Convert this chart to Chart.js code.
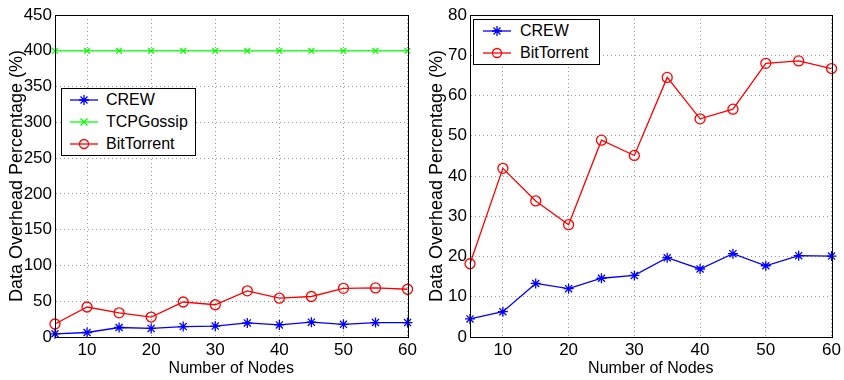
<!DOCTYPE html>
<html>
<head>
<meta charset="utf-8">
<script src="https://cdn.jsdelivr.net/npm/chart.js@4.4.1/dist/chart.umd.min.js"></script>
<style>
  body { margin: 0; background: #fff; }
  #wrap { position: relative; width: 844px; height: 380px; }
  .panel { position: absolute; top: 0; height: 380px; }
  #leftPanel { left: 0; width: 420px; }
  #rightPanel { left: 420px; width: 424px; }
  .legend { position: absolute; border: 1px solid #000; background: #fff;
            font: 16px "Liberation Sans", Arial, sans-serif; color: #000; }
  .legend .row { height: 22px; display: flex; align-items: center; }
  .legend svg { display: block; }
</style>
</head>
<body>
<div id="wrap">
  <div class="panel" id="leftPanel">
    <canvas id="leftChart" width="420" height="380"></canvas>
    <div class="legend" id="leftLegend" style="left:61px;top:88px;width:133px;"></div>
  </div>
  <div class="panel" id="rightPanel">
    <canvas id="rightChart" width="424" height="380"></canvas>
    <div class="legend" id="rightLegend" style="left:53px;top:19px;width:125px;"></div>
  </div>
</div>
<script>
// Дані
var nodes = [5, 10, 15, 20, 25, 30, 35, 40, 45, 50, 55, 60];
var crewOverhead = [4.5, 6.3, 13.3, 12.0, 14.6, 15.3, 19.7, 16.9, 20.7, 17.7, 20.2, 20.1];
var tcpGossipOverhead = [400, 400, 400, 400, 400, 400, 400, 400, 400, 400, 400, 400];
var bitTorrentOverhead = [18.2, 41.9, 33.8, 27.9, 48.9, 45.1, 64.5, 54.2, 56.6, 68.0, 68.6, 66.7];
var xTickValues = [10, 20, 30, 40, 50, 60];

var tickFont = { family: '"Liberation Sans Narrow", "Liberation Sans", Arial, sans-serif', size: 17 };

function points(values) {
  return nodes.map(function(n, i) { return { x: n, y: values[i] }; });
}

var series = {
  crew: { label: 'CREW', color: '#0000ff', style: 'star', radius: 5, values: crewOverhead },
  tcp: { label: 'TCPGossip', color: '#00ff00', style: 'crossRot', radius: 4, values: tcpGossipOverhead },
  bt: { label: 'BitTorrent', color: '#ff0000', style: 'circle', radius: 5, values: bitTorrentOverhead }
};

function makeDataset(s) {
  return {
    label: s.label,
    data: points(s.values),
    borderColor: s.color,
    backgroundColor: 'rgba(0,0,0,0)',
    borderWidth: 1.3,
    pointStyle: s.style,
    pointRadius: s.radius,
    pointBorderColor: s.color,
    pointBackgroundColor: 'rgba(0,0,0,0)',
    pointBorderWidth: 1.3,
    tension: 0,
    clip: false
  };
}

// Рамка навколо області графіка
var framePlugin = {
  id: 'frame',
  afterDraw: function(chart) {
    var a = chart.chartArea, c = chart.ctx;
    c.save();
    c.strokeStyle = '#000';
    c.lineWidth = 1;
    c.strokeRect(Math.round(a.left) + 0.5, Math.round(a.top) + 0.5,
                 Math.round(a.right - a.left), Math.round(a.bottom - a.top));
    c.restore();
  }
};

function makeChart(id, keys, yMax, yStep, yWidth, padRight) {
  var ctx = document.getElementById(id).getContext('2d');
  return new Chart(ctx, {
    type: 'line',
    data: { datasets: keys.map(function(k) { return makeDataset(series[k]); }) },
    options: {
      responsive: false,
      animation: false,
      layout: { padding: { top: 15, right: padRight, left: 0, bottom: 0 } },
      plugins: { legend: { display: false }, tooltip: { enabled: false } },
      scales: {
        x: {
          type: 'linear',
          min: 5,
          max: 60,
          afterBuildTicks: function(axis) {
            axis.ticks = xTickValues.map(function(v) { return { value: v }; });
          },
          afterFit: function(axis) { axis.height = 43; },
          ticks: { font: tickFont, color: '#000', padding: 3, maxRotation: 0 },
          grid: { color: '#9a9a9a', drawTicks: false, lineWidth: 1 },
          border: { display: true, color: '#000', dash: [1, 3] },
          title: {
            display: true,
            text: 'Number of Nodes',
            color: '#000',
            font: { family: '"Liberation Sans", Arial, sans-serif', size: 16 },
            padding: { top: 0, bottom: 2 }
          }
        },
        y: {
          min: 0,
          max: yMax,
          afterFit: function(axis) { axis.width = yWidth; },
          ticks: { stepSize: yStep, font: tickFont, color: '#000', padding: 3 },
          grid: { color: '#9a9a9a', drawTicks: false, lineWidth: 1 },
          border: { display: true, color: '#000', dash: [1, 3] },
          title: {
            display: true,
            text: 'Data Overhead Percentage (%)',
            color: '#000',
            font: { family: '"Liberation Sans", Arial, sans-serif', size: 18 },
            padding: { top: 6, bottom: 0 }
          }
        }
      }
    },
    plugins: [framePlugin]
  });
}

makeChart('leftChart', ['crew', 'tcp', 'bt'], 450, 50, 55, 9);
makeChart('rightChart', ['crew', 'bt'], 80, 10, 50, 11);

// Легенда як HTML-текст з маленькими зразками ліній
function markerSvg(s) {
  var m = '';
  var cx = 14, cy = 6;
  if (s.style === 'circle') {
    m = '<circle cx="' + cx + '" cy="' + cy + '" r="4.5" fill="none" stroke="' + s.color + '" stroke-width="1.3"/>';
  } else if (s.style === 'crossRot') {
    m = '<path d="M10.5 2.5L17.5 9.5M17.5 2.5L10.5 9.5" stroke="' + s.color + '" stroke-width="1.3"/>';
  } else {
    m = '<path d="M14 1V11M9 6H19M10.5 2.5L17.5 9.5M17.5 2.5L10.5 9.5" stroke="' + s.color + '" stroke-width="1.3"/>';
  }
  return '<svg width="28" height="12"><line x1="0" y1="6" x2="28" y2="6" stroke="' + s.color + '" stroke-width="1.3"/>' + m + '</svg>';
}

function buildLegend(id, keys, gap) {
  var box = document.getElementById(id);
  keys.forEach(function(k) {
    var s = series[k];
    var row = document.createElement('div');
    row.className = 'row';
    row.innerHTML = '<span style="margin-left:' + gap + 'px;margin-right:' + gap + 'px">' + markerSvg(s) + '</span><span>' + s.label + '</span>';
    box.appendChild(row);
  });
}

buildLegend('leftLegend', ['crew', 'tcp', 'bt'], 8);
buildLegend('rightLegend', ['crew', 'bt'], 9);
</script>
</body>
</html>
